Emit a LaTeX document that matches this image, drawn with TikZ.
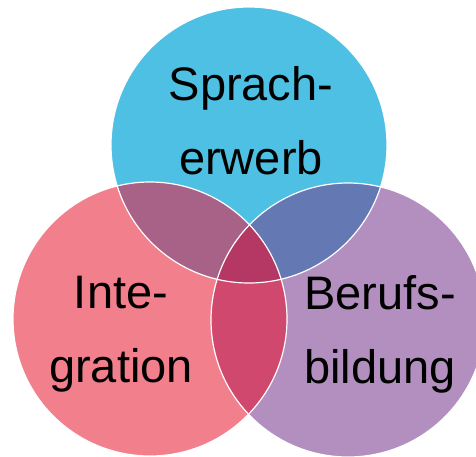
\documentclass[tikz,border=0pt]{standalone}
\usepackage{fontspec}
\setmainfont{Liberation Sans}
\usepackage{tikz}
\definecolor{sprachblau}{RGB}{78,192,228}
\definecolor{integrot}{RGB}{241,128,140}
\definecolor{berufviolett}{RGB}{178,143,190}
\definecolor{blaurot}{RGB}{168,98,136}
\definecolor{blauviolett}{RGB}{100,120,180}
\definecolor{rotviolett}{RGB}{208,72,110}
\definecolor{mitte}{RGB}{180,55,100}

\begin{document}
\begin{tikzpicture}[x=1pt,y=-1pt,
		rand/.style={draw=white,line width=1.2pt},
		label/.style={align=center,font=\fontsize{47}{74}\selectfont}]
		\useasboundingbox (0,0) rectangle (476,456);
		\clip (0,0) rectangle (476,456);
		\coordinate (S) at (249,145);
		\coordinate (I) at (150,319);
		\coordinate (B) at (348,320);
		\fill[sprachblau] (S) circle (138);
		\fill[integrot] (I) circle (137);
		\fill[berufviolett] (B) circle (137);
		\begin{scope}
			\clip (S) circle (138);
			\fill[blaurot] (I) circle (137);
			\fill[blauviolett] (B) circle (137);
		\end{scope}
		\begin{scope}
			\clip (I) circle (137);
			\fill[rotviolett] (B) circle (137);
			\clip (B) circle (137);
			\fill[mitte] (S) circle (138);
		\end{scope}
		\draw[rand] (S) circle (138);
		\draw[rand] (I) circle (137);
		\draw[rand] (B) circle (137);
		\node[label] (sprache) at (251,121) {Sprach-\\erwerb};
		\node[label] (integration) at (121,334) {Inte-\\gration};
		\node[label] (beruf) at (380,334) {Berufs-\\bildung};
	\end{tikzpicture}
\end{document}
